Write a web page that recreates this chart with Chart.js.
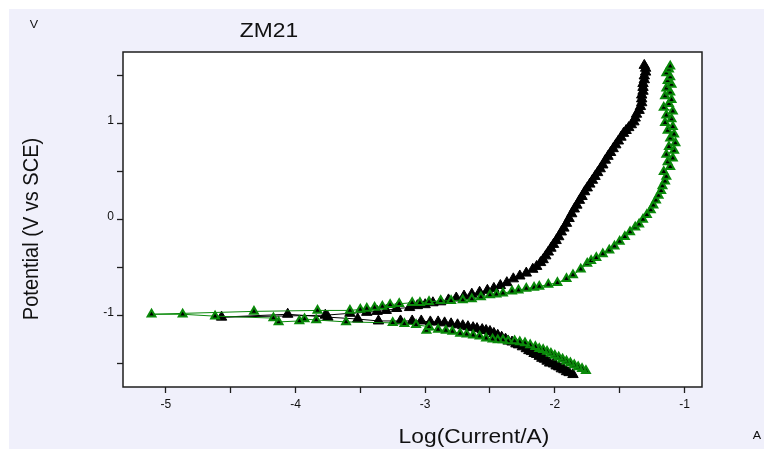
<!DOCTYPE html>
<html>
<head>
<meta charset="utf-8">
<title>ZM21</title>
<script src="https://cdn.jsdelivr.net/npm/chart.js@4.4.1/dist/chart.umd.min.js"></script>
<style>
    html, body { margin: 0; padding: 0; background: #ffffff; }
    #box { width: 764px; height: 449px; }
</style>
</head>
<body>
<div id="box"><canvas id="grafico" width="764" height="449"></canvas></div>
<script>
// black curve: log(current) and potential, in scan order
const blackLogI = [
    -1.86, -1.89, -1.91, -1.93, -1.95, -1.97, -1.99, -2.01, -2.04, -2.06,
    -2.08, -2.10, -2.12, -2.14, -2.16, -2.18, -2.20, -2.22, -2.25, -2.28,
    -2.30, -2.33, -2.36, -2.38, -2.41, -2.44, -2.47, -2.50, -2.53, -2.56,
    -2.60, -2.63, -2.67, -2.71, -2.75, -2.80, -2.85, -2.90, -2.96, -3.03,
    -3.10, -3.19, -3.36, -3.52, -3.75, -4.06, -4.57, -3.77, -3.58, -3.45,
    -3.37, -3.30, -3.22, -3.12, -3.06, -3.00, -2.94, -2.88, -2.82, -2.76,
    -2.70, -2.64, -2.58, -2.52, -2.47, -2.42, -2.37, -2.32, -2.27, -2.22,
    -2.17, -2.14, -2.11, -2.09, -2.07, -2.05, -2.03, -2.01, -1.99, -1.97,
    -1.95, -1.93, -1.91, -1.89, -1.87, -1.85, -1.83, -1.81, -1.79, -1.77,
    -1.75, -1.73, -1.71, -1.69, -1.67, -1.65, -1.63, -1.61, -1.59, -1.57,
    -1.55, -1.53, -1.51, -1.49, -1.47, -1.45, -1.43, -1.41, -1.39, -1.38,
    -1.37, -1.35, -1.34, -1.33, -1.33, -1.33, -1.32, -1.32, -1.32, -1.31,
    -1.31, -1.30, -1.30, -1.31
];
const blackE = [
    -1.62, -1.60, -1.59, -1.57, -1.56, -1.54, -1.53, -1.51, -1.50, -1.48,
    -1.46, -1.45, -1.43, -1.41, -1.40, -1.38, -1.37, -1.35, -1.33, -1.31,
    -1.30, -1.28, -1.27, -1.25, -1.23, -1.21, -1.19, -1.17, -1.16, -1.15,
    -1.14, -1.13, -1.12, -1.11, -1.10, -1.09, -1.08, -1.07, -1.07, -1.06,
    -1.06, -1.06, -1.06, -1.04, -1.02, -0.99, -1.02, -1.00, -0.98, -0.97,
    -0.96, -0.95, -0.93, -0.92, -0.90, -0.89, -0.87, -0.86, -0.84, -0.82,
    -0.80, -0.78, -0.76, -0.74, -0.72, -0.69, -0.66, -0.62, -0.59, -0.56,
    -0.52, -0.49, -0.45, -0.42, -0.38, -0.34, -0.30, -0.26, -0.22, -0.18,
    -0.13, -0.09, -0.04, 0.01, 0.06, 0.11, 0.15, 0.20, 0.24, 0.29,
    0.33, 0.37, 0.41, 0.45, 0.49, 0.53, 0.57, 0.62, 0.66, 0.70,
    0.74, 0.78, 0.82, 0.86, 0.90, 0.93, 0.96, 0.99, 1.02, 1.06,
    1.10, 1.14, 1.18, 1.22, 1.26, 1.30, 1.34, 1.38, 1.42, 1.46,
    1.50, 1.54, 1.58, 1.61
];

// green curve
const greenLogI = [
    -1.76, -1.79, -1.82, -1.85, -1.88, -1.91, -1.94, -1.97, -2.00, -2.03,
    -2.06, -2.09, -2.12, -2.15, -2.19, -2.23, -2.27, -2.31, -2.36, -2.40,
    -2.44, -2.48, -2.53, -2.58, -2.63, -2.68, -2.73, -2.79, -2.84, -2.90,
    -2.99, -2.97, -3.07, -3.16, -3.25, -3.61, -3.84, -3.93, -3.97, -4.13,
    -4.17, -4.62, -4.87, -5.11, -4.32, -3.83, -3.58, -3.50, -3.45, -3.39,
    -3.33, -3.27, -3.20, -3.10, -3.04, -2.97, -2.88, -2.80, -2.71, -2.64,
    -2.57, -2.50, -2.45, -2.40, -2.33, -2.28, -2.22, -2.16, -2.12, -2.05,
    -1.98, -1.91, -1.86, -1.80, -1.75, -1.72, -1.68, -1.63, -1.58, -1.54,
    -1.50, -1.46, -1.42, -1.38, -1.35, -1.32, -1.29, -1.26, -1.24, -1.22,
    -1.20, -1.18, -1.17, -1.15, -1.14, -1.16, -1.11, -1.13, -1.09, -1.14,
    -1.08, -1.12, -1.07, -1.11, -1.08, -1.13, -1.09, -1.15, -1.10, -1.14,
    -1.09, -1.16, -1.12, -1.10, -1.15, -1.11, -1.14, -1.10, -1.13, -1.11,
    -1.14, -1.12, -1.11
];
const greenE = [
    -1.58, -1.56, -1.54, -1.52, -1.50, -1.48, -1.46, -1.44, -1.42, -1.40,
    -1.38, -1.36, -1.35, -1.33, -1.31, -1.29, -1.28, -1.27, -1.27, -1.26,
    -1.26, -1.25, -1.24, -1.22, -1.21, -1.20, -1.19, -1.17, -1.16, -1.15,
    -1.16, -1.12, -1.10, -1.09, -1.08, -1.07, -1.05, -1.04, -1.06, -1.07,
    -1.03, -1.01, -0.99, -0.99, -0.96, -0.95, -0.95, -0.94, -0.93, -0.92,
    -0.91, -0.89, -0.88, -0.87, -0.87, -0.86, -0.85, -0.85, -0.84, -0.83,
    -0.81, -0.79, -0.78, -0.77, -0.75, -0.74, -0.72, -0.71, -0.70, -0.68,
    -0.66, -0.62, -0.58, -0.52, -0.46, -0.43, -0.40, -0.36, -0.32, -0.28,
    -0.23, -0.18, -0.13, -0.08, -0.05, 0.00, 0.05, 0.10, 0.15, 0.20,
    0.25, 0.30, 0.35, 0.40, 0.45, 0.50, 0.55, 0.60, 0.64, 0.68,
    0.72, 0.76, 0.80, 0.85, 0.89, 0.93, 0.97, 1.01, 1.05, 1.09,
    1.13, 1.17, 1.21, 1.25, 1.29, 1.33, 1.37, 1.41, 1.45, 1.49,
    1.53, 1.57, 1.60
];

// axis ticks (labels only on whole numbers)
const xTicks = [-5, -4.5, -4, -3.5, -3, -2.5, -2, -1.5, -1];
const yTicks = [-1.5, -1, -0.5, 0, 0.5, 1, 1.5];

document.addEventListener('DOMContentLoaded', function () {

    const ctx = document.getElementById('grafico').getContext('2d');

    function pontos(xs, ys) {
        return xs.map((x, i) => ({ x: x, y: ys[i] }));
    }

    // page background, white plot box and frame
    const fundo = {
        id: 'fundo',
        beforeDraw(chart) {
            const c = chart.ctx;
            const a = chart.chartArea;
            c.save();
            c.fillStyle = '#ffffff';
            c.fillRect(0, 0, chart.width, chart.height);
            c.fillStyle = '#f0f0fb';
            c.fillRect(9, 9, chart.width - 9, chart.height - 9);
            c.fillStyle = '#ffffff';
            c.fillRect(a.left, a.top, a.right - a.left, a.bottom - a.top);
            c.restore();
        },
        afterDraw(chart) {
            const c = chart.ctx;
            const a = chart.chartArea;
            c.save();
            c.strokeStyle = '#1e1e1e';
            c.lineWidth = 1.5;
            c.strokeRect(a.left, a.top, a.right - a.left, a.bottom - a.top);

            // texts, a bit wider than normal like in the original picture
            function texto(t, x, y, size, rot) {
                c.save();
                c.translate(x, y);
                c.scale(1.14, 1);
                if (rot) c.rotate(rot);
                c.font = size + 'px "Liberation Sans", Arial, sans-serif';
                c.fillStyle = '#111111';
                c.textAlign = 'center';
                c.textBaseline = 'middle';
                c.fillText(t, 0, 0);
                c.restore();
            }
            texto('ZM21', 269, 31, 20);
            texto('Log(Current/A)', 474, 437, 20);
            texto('Potential (V vs SCE)', 32, 229, 20, -Math.PI / 2);
            texto('V', 34, 25, 11);
            texto('A', 757, 436, 11);
            c.restore();
        }
    };

    const fonteTick = { family: '"Liberation Sans", Arial, sans-serif', size: 12 };

    new Chart(ctx, {
        type: 'scatter',
        data: {
            datasets: [
                {
                    label: 'green',
                    data: pontos(greenLogI, greenE),
                    showLine: true,
                    borderColor: '#0a8a0a',
                    borderWidth: 1,
                    pointStyle: 'triangle',
                    pointRadius: 4.5,
                    pointBackgroundColor: '#000000',
                    pointBorderColor: '#0a8a0a',
                    pointBorderWidth: 2,
                    order: 1
                },
                {
                    label: 'black',
                    data: pontos(blackLogI, blackE),
                    showLine: true,
                    borderColor: '#000000',
                    borderWidth: 1,
                    pointStyle: 'triangle',
                    pointRadius: 6,
                    pointBackgroundColor: '#000000',
                    pointBorderColor: '#000000',
                    pointBorderWidth: 1,
                    order: 2
                }
            ]
        },
        options: {
            responsive: false,
            animation: false,
            layout: { padding: { top: 52, right: 62, left: 0, bottom: 0 } },
            plugins: {
                legend: { display: false },
                tooltip: { enabled: false },
                title: { display: false }
            },
            scales: {
                x: {
                    type: 'linear',
                    min: -5.33,
                    max: -0.865,
                    afterBuildTicks: function (s) { s.ticks = xTicks.map(v => ({ value: v })); },
                    afterFit: function (s) { s.height = 62; },
                    border: { display: false },
                    grid: { drawOnChartArea: false, tickLength: 6, tickColor: '#1e1e1e', tickWidth: 1.3 },
                    ticks: {
                        padding: 4,
                        color: '#111111',
                        font: fonteTick,
                        maxRotation: 0,
                        autoSkip: false,
                        callback: v => Number.isInteger(v) ? String(v) : ''
                    }
                },
                y: {
                    type: 'linear',
                    min: -1.75,
                    max: 1.75,
                    afterBuildTicks: function (s) { s.ticks = yTicks.map(v => ({ value: v })); },
                    afterFit: function (s) { s.width = 123; },
                    border: { display: false },
                    grid: { drawOnChartArea: false, tickLength: 6, tickColor: '#1e1e1e', tickWidth: 1.3 },
                    ticks: {
                        padding: 3,
                        labelOffset: -3,
                        color: '#111111',
                        font: fonteTick,
                        autoSkip: false,
                        callback: v => Number.isInteger(v) ? String(v) : ''
                    }
                }
            }
        },
        plugins: [fundo]
    });

});
</script>
</body>
</html>
